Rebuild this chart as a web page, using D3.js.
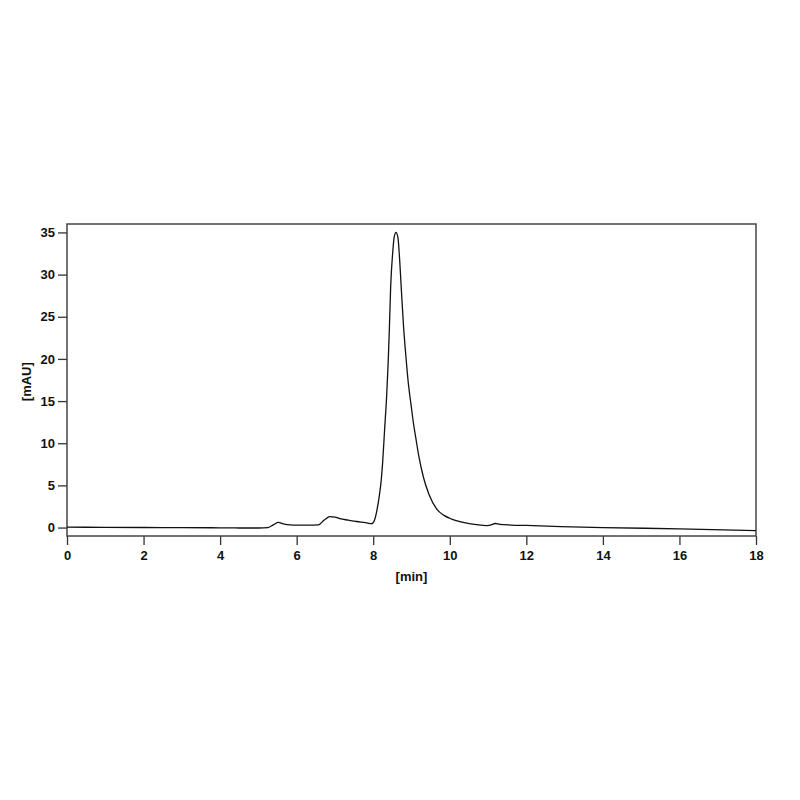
<!DOCTYPE html>
<html>
<head>
<meta charset="utf-8">
<script src="https://cdn.jsdelivr.net/npm/d3@7"></script>
<style>
    body { margin: 0; background: #fff; }
    .tick text { font-family: "Liberation Sans", Arial, sans-serif; font-weight: bold; font-size: 13px; fill: #111; }
    .axis-label { font-family: "Liberation Sans", Arial, sans-serif; font-weight: bold; font-size: 13px; fill: #111; }
</style>
</head>
<body>
<div id="chart"></div>
<script>
// Chromatogram values
const retentionTime = [0, 1, 2, 3, 4, 4.5, 5.0, 5.25, 5.4, 5.52, 5.65, 5.83, 6.0, 6.3, 6.57, 6.72, 6.87, 7.0, 7.13, 7.35, 7.57, 7.8, 7.96, 8.03, 8.09, 8.15, 8.21, 8.245, 8.297, 8.35, 8.39, 8.42, 8.456, 8.508, 8.55, 8.595, 8.645, 8.68, 8.73, 8.79, 8.85, 8.92, 8.99, 9.05, 9.11, 9.19, 9.31, 9.46, 9.66, 9.85, 10.05, 10.44, 10.7, 10.96, 11.1, 11.18, 11.31, 11.6, 12, 12.9, 14, 16, 18]
const absorbance = [0.05, 0.03, 0.01, -0.01, -0.03, -0.05, -0.05, 0.0, 0.35, 0.62, 0.45, 0.32, 0.3, 0.3, 0.33, 0.9, 1.3, 1.25, 1.05, 0.88, 0.72, 0.58, 0.46, 0.85, 1.9, 3.5, 5.65, 7.64, 11.59, 15.54, 19.5, 23.3, 28.6, 32.55, 34.5, 35.0, 34.4, 32.5, 28.6, 24.0, 20.5, 17.0, 14.5, 12.4, 10.7, 8.5, 6.0, 3.9, 2.2, 1.45, 1.0, 0.52, 0.35, 0.24, 0.35, 0.48, 0.38, 0.3, 0.25, 0.12, 0.0, -0.15, -0.36]

const xTicks = [0, 2, 4, 6, 8, 10, 12, 14, 16, 18]
const yTicks = [0, 5, 10, 15, 20, 25, 30, 35]

const data = retentionTime.map((t, i) => ({ t, v: absorbance[i] }))

// Set dimensions
const dimensions = {
    width: 800,
    height: 800,
    margins: { top: 224, right: 44, bottom: 264, left: 67 }
}
dimensions.boundedWidth = dimensions.width - dimensions.margins.left - dimensions.margins.right
dimensions.boundedHeight = dimensions.height - dimensions.margins.top - dimensions.margins.bottom

const wrapper = d3.select("#chart").append("svg")
    .attr("width", dimensions.width)
    .attr("height", dimensions.height)

const bounds = wrapper.append("g")
    .attr("transform", `translate(${dimensions.margins.left}, ${dimensions.margins.top})`)

// Scales
const xScale = d3.scaleLinear()
    .domain([0, 18])
    .range([0, dimensions.boundedWidth])

const yScale = d3.scaleLinear()
    .domain([-1, 36])
    .range([dimensions.boundedHeight, 0])

// Axes
const xAxis = bounds.append("g")
    .attr("transform", `translate(0, ${dimensions.boundedHeight})`)
    .call(d3.axisBottom(xScale).tickValues(xTicks).tickSize(9).tickPadding(6))
xAxis.select(".domain").remove()

const yAxis = bounds.append("g")
    .call(d3.axisLeft(yScale).tickValues(yTicks).tickSize(9).tickPadding(3))
yAxis.select(".domain").remove()

bounds.selectAll(".tick line").attr("stroke", "#333").attr("stroke-width", 1.3)

// Frame
bounds.append("rect")
    .attr("width", dimensions.boundedWidth)
    .attr("height", dimensions.boundedHeight)
    .attr("fill", "none")
    .attr("stroke", "#444")
    .attr("stroke-width", 1.5)

// Trace
const line = d3.line()
    .x(d => xScale(d.t))
    .y(d => yScale(d.v))
    .curve(d3.curveMonotoneX)

bounds.append("path")
    .datum(data)
    .attr("d", line)
    .attr("fill", "none")
    .attr("stroke", "#111")
    .attr("stroke-width", 1.3)

// Axis labels
bounds.append("text")
    .attr("class", "axis-label")
    .attr("x", xScale(9))
    .attr("y", dimensions.boundedHeight + 45)
    .attr("text-anchor", "middle")
    .text("[min]")

bounds.append("text")
    .attr("class", "axis-label")
    .attr("transform", `translate(-36, ${yScale(17.3)}) rotate(-90)`)
    .attr("text-anchor", "middle")
    .text("[mAU]")
</script>
</body>
</html>
